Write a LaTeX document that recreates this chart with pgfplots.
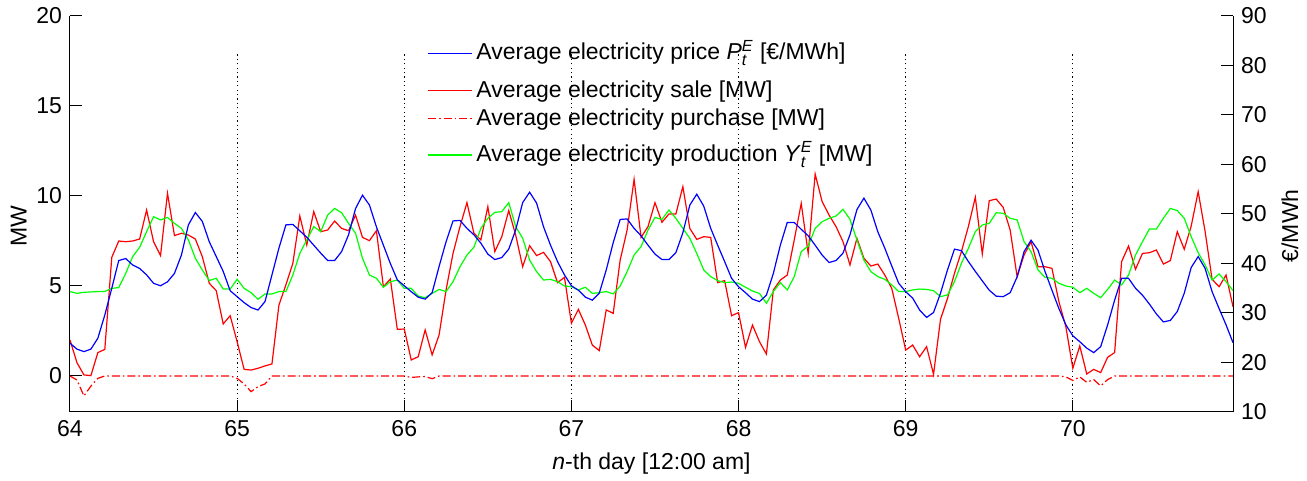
\documentclass[border=0pt]{standalone}
\usepackage{fontspec}
\setmainfont{Liberation Sans}
\usepackage{amsmath}
\usepackage{pgfplots}
\usepackage{pgfplotstable}
\pgfplotsset{compat=1.18}
\usetikzlibrary{calc}

\pgfplotstableread{
price sale purch prod
23.9 2.00 0 4.69
22.7 0.74 -0.22 4.59
22.2 0.06 -1.11 4.65
22.7 0.02 -0.56 4.67
24.9 1.30 -0.13 4.69
29.6 1.48 0 4.70
35.0 6.59 0 4.87
40.6 7.50 0 4.91
41.0 7.46 0 5.70
39.7 7.50 0 6.63
39.0 7.61 0 7.15
37.7 9.22 0 8.02
36.0 7.46 0 8.85
35.5 6.69 0 8.67
36.3 10.15 0 8.81
38.0 7.80 0 8.48
41.7 7.93 0 8.20
47.8 7.83 0 7.56
50.3 7.61 0 6.54
48.5 6.63 0 5.89
44.4 5.15 0 5.30
41.4 4.74 0 5.43
38.4 2.89 0 4.83
34.5 3.35 0 4.83
33.3 1.90 -0.13 5.37
32.1 0.37 -0.44 4.87
31.1 0.33 -0.87 4.63
30.6 0.43 -0.59 4.26
32.3 0.56 -0.44 4.56
37.7 0.67 0 4.56
43.1 3.94 0 4.69
47.8 5.06 0 4.69
47.9 6.26 0 5.61
46.6 8.89 0 6.81
45.3 7.28 0 7.56
43.7 9.13 0 8.30
42.1 8.02 0 8.02
40.6 8.11 0 8.94
40.6 8.61 0 9.31
42.4 8.20 0 9.07
45.8 8.07 0 8.48
51.1 8.94 0 7.93
53.8 7.70 0 6.54
51.8 7.52 0 5.61
47.4 8.07 0 5.43
43.7 4.96 0 4.93
40.0 5.39 0 5.24
36.7 2.59 0 5.33
35.5 2.61 0 4.87
34.3 0.89 -0.08 4.87
33.2 1.07 -0.05 4.44
32.8 2.56 -0.03 4.35
34.1 1.17 -0.15 4.59
39.4 2.28 0 4.81
44.4 4.78 0 4.69
48.6 6.81 0 5.24
48.7 8.30 0 6.07
47.1 9.63 0 6.72
45.8 7.93 0 7.15
44.1 7.56 0 8.20
41.9 9.41 0 8.76
40.8 6.91 0 9.09
41.2 7.74 0 9.13
42.9 9.19 0 9.63
46.8 7.83 0 8.30
52.3 6.07 0 7.65
54.4 7.24 0 6.44
52.2 6.69 0 5.80
47.4 6.87 0 5.33
43.7 6.35 0 5.37
40.4 5.19 0 5.24
37.7 5.48 0 5.00
35.5 2.93 0 4.96
34.6 3.70 0 4.78
33.2 2.83 0 4.93
32.6 1.72 0 4.59
34.0 1.41 0 4.63
38.7 3.67 0 4.69
44.2 3.48 0 4.56
48.9 6.44 0 5.00
49.0 8.11 0 5.80
47.1 10.93 0 6.72
45.6 7.70 0 7.19
43.7 8.30 0 8.11
41.9 9.63 0 8.81
40.8 8.54 0 8.70
40.8 9.00 0 9.22
42.2 9.00 0 8.76
46.2 10.52 0 8.20
51.8 8.20 0 7.65
54.0 7.59 0 6.81
51.6 7.74 0 5.89
47.1 7.70 0 5.52
43.7 5.19 0 5.30
40.4 5.30 0 5.19
37.0 3.35 0 5.22
35.3 3.52 0 5.15
34.1 1.59 0 4.93
32.8 2.83 0 4.72
32.3 1.91 0 4.59
33.6 1.22 0 4.04
38.0 4.78 0 4.69
43.7 5.33 0 5.19
48.3 5.61 0 4.78
48.3 7.56 0 5.52
46.9 9.59 0 6.91
45.6 6.81 0 7.22
43.7 11.22 0 8.20
41.7 9.69 0 8.57
40.2 8.94 0 8.76
40.6 8.30 0 8.89
42.1 7.46 0 9.26
45.8 6.17 0 8.70
50.9 7.65 0 7.56
53.2 6.54 0 6.44
50.8 6.11 0 5.80
46.4 6.22 0 5.52
43.1 5.61 0 5.37
39.5 4.87 0 5.06
36.0 3.20 0 4.69
34.3 1.44 0 4.69
33.0 1.72 0 4.78
30.6 1.07 0 4.83
29.1 1.63 0 4.81
30.1 0.09 0 4.74
34.0 3.15 0 4.41
38.7 4.31 0 4.50
42.9 5.70 0 5.24
42.6 6.91 0 6.26
40.4 8.30 0 7.09
38.4 9.93 0 8.02
36.5 6.78 0 8.39
34.6 9.74 0 8.48
33.4 9.83 0 9.07
33.3 9.37 0 9.04
34.1 8.11 0 8.76
37.3 5.52 0 8.67
42.4 6.72 0 7.46
44.7 7.46 0 6.91
42.7 6.07 0 5.89
38.4 6.07 0 5.48
34.6 5.98 0 5.43
30.9 4.13 0 5.15
27.6 2.74 -0.05 5.00
25.4 0.43 -0.25 4.93
24.2 1.67 -0.05 4.63
22.9 0.11 -0.35 4.87
22.0 0.37 -0.20 4.59
23.2 0.19 -0.55 4.35
27.6 1.04 -0.20 4.81
32.6 1.30 0 5.33
37.0 6.35 0 5.06
37.0 7.22 0 5.61
35.0 5.93 0 6.72
33.6 6.81 0 7.46
31.8 6.85 0 8.17
29.8 7.00 0 8.17
28.2 6.22 0 8.76
28.5 6.41 0 9.31
30.3 8.02 0 9.19
34.0 7.04 0 8.76
39.2 8.33 0 7.74
41.4 10.24 0 6.85
39.0 8.02 0 6.17
34.3 5.37 0 5.33
30.9 4.96 0 5.67
27.6 5.61 0 5.24
24.0 3.85 0 4.74
}\data

\begin{document}
\fontsize{11.5}{13.8}\selectfont
\begin{tikzpicture}
\pgfplotsset{
  every axis/.append style={
    scale only axis, width=581.5pt, height=198pt,
    xmin=64, xmax=70.9583,
    tick align=inside, major tick length=6pt,
    /pgf/number format/assume math mode=true,
    tick label style={font=\fontsize{11.5}{13.8}\selectfont},
    label style={font=\fontsize{11.5}{13.8}\selectfont},
    axis line style={-, black, line width=0.5pt},
    every tick/.style={black, line width=0.5pt},
  }
}
\begin{axis}[name=ax,
  axis x line*=bottom, axis y line*=left,
  ymin=-2, ymax=20, ytick={0,5,10,15,20},
  xtick={64,65,66,67,68,69,70},
  ylabel={MW},
  xlabel={\textit{n}-th day [12:00 am]},
  ylabel style={at={(axis description cs:-0.044,0.47)}, anchor=center},
  xlabel style={at={(axis description cs:0.5,-0.129)}, anchor=center},
]
\pgfplotsinvokeforeach{65,66,67,68,69,70}{
  \addplot[black, line width=0.5pt, dash pattern=on 0.6pt off 1.6pt, forget plot] coordinates {(#1,-2) (#1,18)};
}
\addplot[red, line width=0.6pt] table[x expr={64+\coordindex/24}, y=sale] {\data};
\addplot[red, line width=0.6pt, dash pattern=on 4pt off 1.5pt on 0.8pt off 1.5pt] table[x expr={64+\coordindex/24}, y=purch] {\data};
\addplot[green, line width=0.6pt] table[x expr={64+\coordindex/24}, y=prod] {\data};
\end{axis}
\begin{axis}[
  axis y line*=right, axis x line=none,
  ymin=10, ymax=90, ytick={10,20,30,40,50,60,70,80,90},
  ylabel={€/MWh},
  ylabel style={at={(axis description cs:1.049,0.47)}, anchor=center},
]
\addplot[blue, line width=0.6pt] table[x expr={64+\coordindex/24}, y=price] {\data};
% legend (drawn by hand, no frame)
\draw[blue, line width=0.6pt] (axis description cs:0.3078,0.9058) -- (axis description cs:0.3457,0.9058);
\node[anchor=base west, inner sep=0pt, font=\fontsize{11.5}{13.8}\selectfont] at (axis description cs:0.3491,0.8889) {Average electricity price \textit{P}$^{\textit{E}}_{\textit{t}}$ [€/MWh]};
\draw[red, line width=0.6pt] (axis description cs:0.3078,0.8114) -- (axis description cs:0.3457,0.8114);
\node[anchor=base west, inner sep=0pt, font=\fontsize{11.5}{13.8}\selectfont] at (axis description cs:0.3491,0.7944) {Average electricity sale [MW]};
\draw[red, line width=0.6pt, dash pattern=on 4pt off 1.5pt on 0.8pt off 1.5pt] (axis description cs:0.3078,0.7417) -- (axis description cs:0.3457,0.7417);
\node[anchor=base west, inner sep=0pt, font=\fontsize{11.5}{13.8}\selectfont] at (axis description cs:0.3491,0.7247) {Average electricity purchase [MW]};
\draw[green, line width=0.6pt] (axis description cs:0.3078,0.6490) -- (axis description cs:0.3457,0.6490);
\node[anchor=base west, inner sep=0pt, font=\fontsize{11.5}{13.8}\selectfont] at (axis description cs:0.3491,0.6321) {Average electricity production \textit{Y}$^{\textit{E}}_{\textit{t}}$ [MW]};
\end{axis}
\pgfresetboundingbox
\path ($(ax.south west)+(-35pt,-34.5pt)$) rectangle ($(ax.north east)+(37pt,8pt)$);
\end{tikzpicture}
\end{document}
